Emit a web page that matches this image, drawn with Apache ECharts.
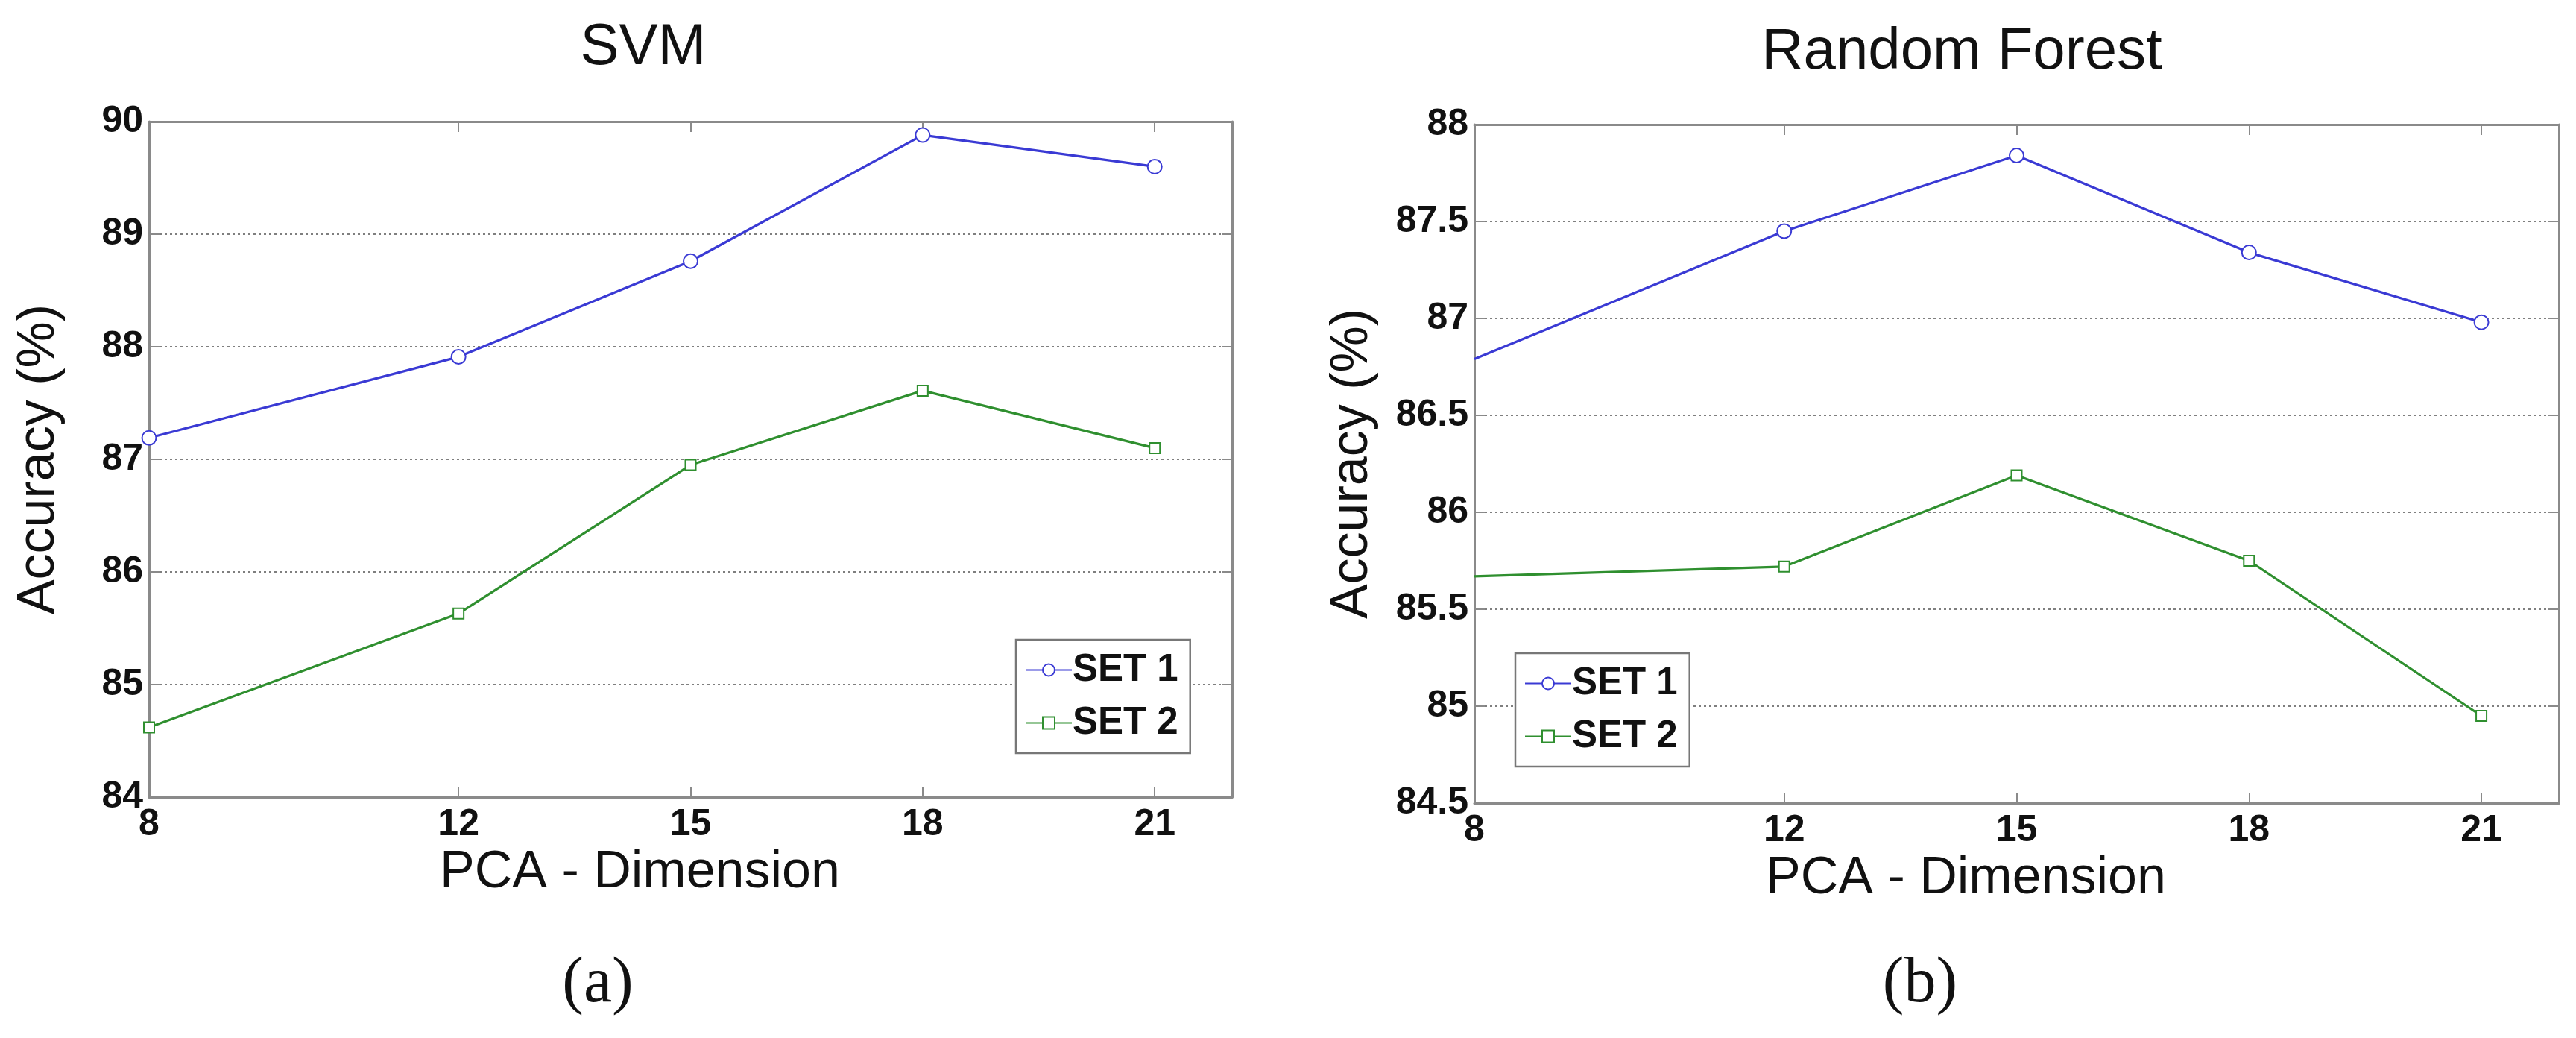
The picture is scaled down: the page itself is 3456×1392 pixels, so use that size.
<!DOCTYPE html>
<html><head><meta charset="utf-8">
<script src="https://cdn.jsdelivr.net/npm/echarts@6/dist/echarts.min.js"></script>
<style>html,body{margin:0;padding:0;background:#fff}#c{width:3456px;height:1392px}</style>
</head><body><div id="c"></div>
<script>
// ---- data ----
const dims = [8, 12, 15, 18, 21];
const seriesNames = ['SET 1', 'SET 2'];
const svmSet1 = [87.19, 87.91, 88.76, 89.88, 89.60];
const svmSet2 = [84.62, 85.63, 86.95, 87.61, 87.10];
const rfSet1 = [86.79, 87.45, 87.84, 87.34, 86.98];
const rfSet2 = [85.67, 85.72, 86.19, 85.75, 84.95];
const titles = ['SVM', 'Random Forest'];
const captions = ['(a)', '(b)'];
const xName = 'PCA - Dimension';
const yName = 'Accuracy (%)';

// ---- styling ----
const FONT = '"Liberation Sans", Arial, sans-serif';
const BLUE = '#3a3ad4';
const GREEN = '#2f8f2f';
const AXIS = '#8a8a8a';

function pairs(vals) { return dims.map((d, i) => [d, vals[i]]); }

function xAxes(gi) {
  const base = {
    type: 'value', gridIndex: gi, min: 8, max: 22,
    axisLine: { show: true, lineStyle: { color: AXIS, width: 3 } },
    axisTick: { show: true, inside: true, length: 14, customValues: dims, lineStyle: { color: AXIS, width: 2 } },
    splitLine: { show: false }
  };
  return [
    Object.assign({}, base, {
      position: 'bottom',
      name: xName, nameLocation: 'middle', nameGap: 64,
      nameTextStyle: { fontFamily: FONT, fontSize: 70, color: '#111', padding: [0, 136, 0, 0] },
      axisLabel: { show: true, customValues: dims, margin: 12, fontFamily: FONT, fontSize: 50, fontWeight: 'bold', color: '#111' }
    }),
    Object.assign({}, base, { position: 'top', axisLabel: { show: false } })
  ];
}

function yAxes(gi, min, max, interval, gap) {
  const base = {
    type: 'value', gridIndex: gi, min: min, max: max, interval: interval,
    axisLine: { show: true, lineStyle: { color: AXIS, width: 3 } },
    axisTick: { show: true, inside: true, length: 14, lineStyle: { color: AXIS, width: 2 } }
  };
  return [
    Object.assign({}, base, {
      position: 'left',
      name: yName, nameLocation: 'middle', nameGap: gap,
      nameTextStyle: { fontFamily: FONT, fontSize: 70, color: '#111' },
      axisLabel: { show: true, margin: 8, fontFamily: FONT, fontSize: 50, fontWeight: 'bold', color: '#111' },
      splitLine: { show: true, lineStyle: { color: '#555', width: 1.5, type: [3, 4] } }
    }),
    Object.assign({}, base, { position: 'right', axisLabel: { show: false }, splitLine: { show: false } })
  ];
}

function lineSeries(name, vals, gi, color, symbol, size) {
  return {
    name: name, type: 'line', xAxisIndex: gi * 2, yAxisIndex: gi * 2,
    data: pairs(vals).map((p, i) => (gi === 1 && i === 0) ? { value: p, symbol: 'none' } : p),
    symbol: symbol, symbolSize: size, showAllSymbol: true,
    lineStyle: { color: color, width: 3.2 },
    itemStyle: { color: color, borderColor: color, borderWidth: 2.5 },
    emphasis: { disabled: true }
  };
}

function legend(left, top) {
  return {
    left: left, top: top, orient: 'vertical', data: seriesNames,
    backgroundColor: '#fff', borderColor: '#777', borderWidth: 2.5,
    padding: [15, 16, 15, 12], itemGap: 20, itemWidth: 62, itemHeight: 20,
    textStyle: { fontFamily: FONT, fontSize: 51, fontWeight: 'bold', color: '#111', padding: [0, 0, 0, -4] }
  };
}

const option = {
  backgroundColor: '#fff',
  animation: false,
  title: [
    { text: titles[0], left: 858, top: 20, textAlign: 'center', textStyle: { fontFamily: FONT, fontSize: 78, fontWeight: 'normal', color: '#111' } },
    { text: titles[1], left: 2627, top: 26, textAlign: 'center', textStyle: { fontFamily: FONT, fontSize: 78, fontWeight: 'normal', color: '#111' } },
    { text: captions[0], left: 797, top: 1272, textAlign: 'center', textStyle: { fontFamily: '"Liberation Serif", "DejaVu Serif", serif', fontSize: 86, fontWeight: 'normal', color: '#111' } },
    { text: captions[1], left: 2571, top: 1272, textAlign: 'center', textStyle: { fontFamily: '"Liberation Serif", "DejaVu Serif", serif', fontSize: 86, fontWeight: 'normal', color: '#111' } }
  ],
  grid: [
    { left: 200, top: 163, width: 1453, height: 906, containLabel: false },
    { left: 1978, top: 167, width: 1455, height: 910, containLabel: false }
  ],
  legend: [legend(1363, 858), legend(2033, 876)],
  xAxis: [].concat(xAxes(0), xAxes(1)),
  yAxis: [].concat(yAxes(0, 84, 90, 1, 112), yAxes(1, 84.5, 88, 0.5, 128)),
  series: [
    lineSeries(seriesNames[0], svmSet1, 0, BLUE, 'emptyCircle', 19),
    lineSeries(seriesNames[1], svmSet2, 0, GREEN, 'emptyRect', 14),
    lineSeries(seriesNames[0], rfSet1, 1, BLUE, 'emptyCircle', 19),
    lineSeries(seriesNames[1], rfSet2, 1, GREEN, 'emptyRect', 14)
  ]
};
const chart = echarts.init(document.getElementById('c'), null, { renderer: 'canvas' });
chart.setOption(option);
</script></body></html>
